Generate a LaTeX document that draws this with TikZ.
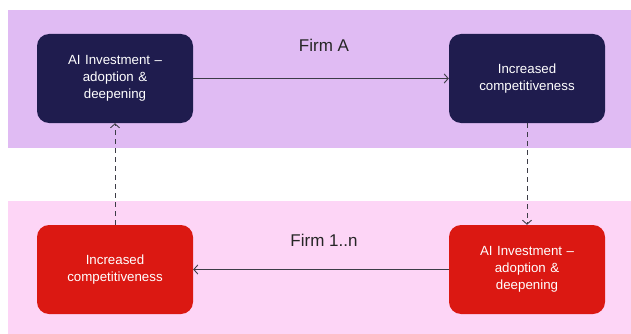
\documentclass[tikz,border=0pt]{standalone}
\usepackage{fontspec}
\setmainfont{Liberation Sans}
\usepackage{xcolor}
\usetikzlibrary{positioning,arrows.meta}

\definecolor{bandtop}{HTML}{E0BBF3}
\definecolor{bandbot}{HTML}{FDD5F6}
\definecolor{navy}{HTML}{1F1C4E}
\definecolor{firmred}{HTML}{DB1812}
\definecolor{linegray}{HTML}{3C3C46}

\begin{document}
\begin{tikzpicture}
  [x=1pt,y=-1pt,
   box/.style={rectangle,rounded corners=12pt,minimum width=156pt,minimum height=89pt,
     text width=146pt,align=center,text=white,font=\fontsize{13.3}{16.7}\selectfont},
   firm/.style={font=\fontsize{17}{19}\selectfont,text=black!85},
   link/.style={draw=linegray,line width=0.9pt,-{Straight Barb[length=4pt,width=9pt]}},
   back/.style={link,dashed,dash pattern=on 5pt off 4pt}]
  \useasboundingbox (0,0) rectangle (631,334);

  % the two bands
  \fill[bandtop] (8,10) rectangle (631,148);
  \fill[bandbot] (8,201) rectangle (631,334);

  \node[box,fill=navy] (a1) at (115,78.5) {AI Investment --\\adoption \&\\deepening};
  \node[box,fill=navy] (a2) at (527,78.5) {Increased\\competitiveness};
  \node[box,fill=firmred] (b1) at (527,269.5) {AI Investment --\\adoption \&\\deepening};
  \node[box,fill=firmred] (b2) at (115,269.5) {Increased\\competitiveness};

  \node[firm] (fa) at (324,45) {Firm A};
  \node[firm] (fb) at (324,240) {Firm 1..n};

  \draw[link] (a1) -- (a2);
  \draw[link] (b1) -- (b2);
  \foreach \from/\to in {a2/b1,b2/a1}
    \draw[back] (\from) -- (\to);

\end{tikzpicture}
\end{document}
